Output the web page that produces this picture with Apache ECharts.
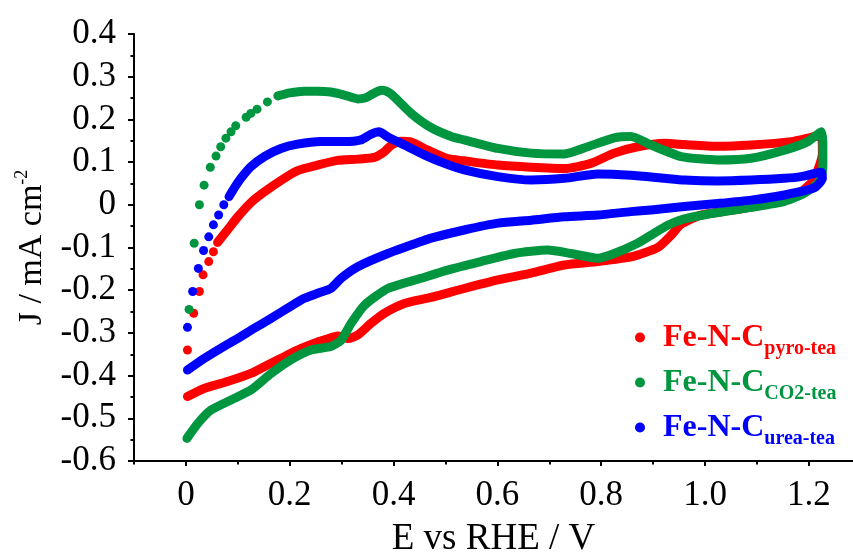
<!DOCTYPE html>
<html>
<head>
<meta charset="utf-8">
<title>CV Fe-N-C</title>
<script src="https://cdn.jsdelivr.net/npm/echarts@6/dist/echarts.min.js"></script>
<style>
  html, body { margin: 0; padding: 0; background: #fff; }
  #chart { width: 853px; height: 552px; }
</style>
</head>
<body>
<div id="chart"></div>
<script>
// E (V vs RHE), J (mA cm-2)
const xTicks = [0, 0.2, 0.4, 0.6, 0.8, 1.0, 1.2]
const xMinorTicks = [-0.1, 0.1, 0.3, 0.5, 0.7, 0.9, 1.1]
const subLabels = ['pyro-tea', 'CO2-tea', 'urea-tea']

// continuous part of each scan (anodic branch -> turn at 1.23 V -> cathodic branch)
const pyroLoop = [
  [0.061, -0.088], [0.080, -0.059], [0.100, -0.028], [0.125, 0.005], [0.151, 0.030],
  [0.183, 0.057], [0.215, 0.080], [0.254, 0.093], [0.292, 0.104], [0.331, 0.107],
  [0.363, 0.111], [0.382, 0.124], [0.395, 0.139], [0.414, 0.149], [0.434, 0.147],
  [0.466, 0.128], [0.504, 0.108], [0.536, 0.103], [0.601, 0.093], [0.665, 0.088],
  [0.729, 0.085], [0.780, 0.097], [0.825, 0.121], [0.870, 0.136], [0.922, 0.144],
  [0.960, 0.141], [1.024, 0.137], [1.089, 0.140], [1.166, 0.148], [1.204, 0.158],
  [1.224, 0.163], [1.226, 0.120], [1.210, 0.060], [1.190, 0.035], [1.172, 0.022],
  [1.121, 0.003], [1.056, -0.012], [0.992, -0.024], [0.954, -0.045], [0.934, -0.072],
  [0.909, -0.100], [0.857, -0.122], [0.793, -0.133], [0.729, -0.141], [0.665, -0.160],
  [0.601, -0.176], [0.536, -0.196], [0.472, -0.217], [0.421, -0.231], [0.382, -0.254],
  [0.356, -0.278], [0.331, -0.305], [0.312, -0.313], [0.292, -0.307], [0.270, -0.315],
  [0.254, -0.321], [0.215, -0.340], [0.164, -0.371], [0.125, -0.395], [0.080, -0.414],
  [0.035, -0.430], [0.003, -0.449]
]
const co2Loop = [
  [0.177, 0.255], [0.200, 0.262], [0.228, 0.266], [0.254, 0.266], [0.279, 0.264],
  [0.305, 0.257], [0.331, 0.248], [0.345, 0.250], [0.356, 0.257], [0.370, 0.266],
  [0.379, 0.268], [0.392, 0.262], [0.402, 0.252], [0.434, 0.214], [0.472, 0.181],
  [0.511, 0.160], [0.536, 0.152], [0.601, 0.132], [0.665, 0.121], [0.729, 0.119],
  [0.774, 0.136], [0.825, 0.157], [0.857, 0.160], [0.896, 0.140], [0.954, 0.113],
  [1.024, 0.105], [1.089, 0.109], [1.153, 0.128], [1.198, 0.148], [1.224, 0.171],
  [1.227, 0.140], [1.227, 0.100], [1.225, 0.070], [1.217, 0.050], [1.191, 0.027],
  [1.153, 0.008], [1.089, -0.006], [1.024, -0.018], [0.960, -0.033], [0.928, -0.048],
  [0.896, -0.071], [0.870, -0.090], [0.825, -0.114], [0.793, -0.125], [0.742, -0.114],
  [0.697, -0.106], [0.633, -0.114], [0.568, -0.133], [0.504, -0.153], [0.453, -0.172],
  [0.389, -0.196], [0.344, -0.235], [0.318, -0.278], [0.299, -0.317], [0.279, -0.332],
  [0.241, -0.340], [0.202, -0.363], [0.164, -0.395], [0.125, -0.434], [0.087, -0.457],
  [0.048, -0.481], [0.023, -0.512], [0.002, -0.547]
]
const ureaLoop = [
  [0.083, 0.019], [0.093, 0.039], [0.106, 0.062], [0.125, 0.089], [0.151, 0.113],
  [0.183, 0.132], [0.215, 0.142], [0.260, 0.148], [0.305, 0.148], [0.337, 0.152],
  [0.356, 0.165], [0.372, 0.171], [0.389, 0.159], [0.421, 0.140], [0.459, 0.117],
  [0.498, 0.097], [0.536, 0.082], [0.601, 0.066], [0.665, 0.058], [0.729, 0.062],
  [0.793, 0.072], [0.857, 0.069], [0.922, 0.062], [0.960, 0.058], [1.024, 0.056],
  [1.089, 0.058], [1.153, 0.062], [1.185, 0.066], [1.224, 0.076], [1.226, 0.062],
  [1.211, 0.040], [1.153, 0.023], [1.089, 0.011], [1.024, 0.003], [0.960, -0.004],
  [0.896, -0.012], [0.857, -0.016], [0.793, -0.024], [0.729, -0.028], [0.665, -0.036],
  [0.601, -0.043], [0.536, -0.059], [0.472, -0.078], [0.453, -0.086], [0.389, -0.114],
  [0.331, -0.145], [0.299, -0.172], [0.279, -0.196], [0.254, -0.207], [0.228, -0.219],
  [0.196, -0.242], [0.164, -0.266], [0.132, -0.289], [0.100, -0.313], [0.067, -0.336],
  [0.035, -0.360], [0.003, -0.387]
]

// sparse points right after the scan reverses at 0 V
const pyroDots = [
  [0.003, -0.340], [0.015, -0.254], [0.026, -0.203], [0.033, -0.164], [0.044, -0.133],
  [0.053, -0.110]
]
const co2Dots = [
  [0.006, -0.245], [0.016, -0.090], [0.026, 0.000], [0.035, 0.046], [0.047, 0.088],
  [0.058, 0.114], [0.067, 0.136], [0.077, 0.156], [0.087, 0.171], [0.096, 0.185],
  [0.116, 0.205], [0.125, 0.214], [0.137, 0.224], [0.157, 0.241]
]
const ureaDots = [
  [0.003, -0.287], [0.013, -0.203], [0.024, -0.149], [0.034, -0.107], [0.044, -0.075],
  [0.053, -0.047], [0.063, -0.024], [0.073, 0.000]
]

const colors = ['#ff0000', '#009640', '#0000ff']
const serif = '"Liberation Serif", "Times New Roman", serif'

let mychart = echarts.init(document.getElementById('chart'))

function fmt(v) {
  if (Math.abs(v) < 1e-9) return '0'
  return v.toFixed(1)
}

let names = subLabels.map((s) => 'Fe-N-C ' + s)
let loops = [pyroLoop, co2Loop, ureaLoop]
let dots = [pyroDots, co2Dots, ureaDots]

let series = []
names.forEach((name, i) => {
  series.push({
    name: name,
    type: 'line',
    data: loops[i],
    color: colors[i],
    symbol: 'none',
    smooth: 0.2,
    lineStyle: { width: 9, cap: 'round', join: 'round', color: colors[i] },
  })
  series.push({
    name: name,
    type: 'scatter',
    data: dots[i],
    color: colors[i],
    symbol: 'circle',
    symbolSize: 9,
    itemStyle: { color: colors[i], opacity: 1 },
  })
})

let rich = {}
colors.forEach((c, i) => {
  rich['m' + i] = { color: c, fontSize: 32, fontWeight: 'bold', fontFamily: serif, lineHeight: 40 }
  rich['s' + i] = { color: c, fontSize: 20, fontWeight: 'bold', fontFamily: serif, lineHeight: 20, padding: [23, 0, 0, 0] }
})

let option = {
  animation: false,
  backgroundColor: '#fff',
  grid: {
    left: 134,
    right: 0,
    top: 34,
    bottom: 91,
    outerBoundsMode: 'none',
  },
  legend: {
    data: names,
    orient: 'vertical',
    left: 630,
    top: 311,
    icon: 'circle',
    itemWidth: 10,
    itemHeight: 10,
    itemGap: 2,
    textStyle: { padding: [0, 0, 0, 13], rich: rich },
    formatter: (name) => {
      let i = names.indexOf(name)
      return '{m' + i + '|Fe-N-C}{s' + i + '|' + subLabels[i] + '}'
    },
  },
  xAxis: [
    {
      type: 'value',
      min: -0.1,
      max: 1.285,
      name: 'E vs RHE / V',
      nameLocation: 'middle',
      nameGap: 60,
      nameTextStyle: { fontSize: 37, fontFamily: serif, color: '#000' },
      axisLine: { onZero: false, lineStyle: { color: '#000', width: 2 } },
      axisTick: { customValues: xTicks, length: 5, lineStyle: { color: '#000', width: 2 } },
      axisLabel: {
        customValues: xTicks,
        formatter: fmt,
        fontSize: 35,
        fontFamily: serif,
        color: '#000',
        margin: 17,
      },
      splitLine: { show: false },
    },
    {
      type: 'value',
      position: 'bottom',
      min: -0.1,
      max: 1.285,
      axisLine: { show: false, onZero: false },
      axisTick: { customValues: xMinorTicks, length: 3.5, lineStyle: { color: '#000', width: 2 } },
      axisLabel: { show: false },
      splitLine: { show: false },
    },
  ],
  yAxis: {
    type: 'value',
    min: -0.6,
    max: 0.4,
    interval: 0.1,
    name: '{a|J / mA cm}{b|-2}',
    nameLocation: 'middle',
    nameGap: 84,
    nameTextStyle: {
      color: '#000',
      rich: {
        a: { fontSize: 34, fontFamily: serif, color: '#000', lineHeight: 36 },
        b: { fontSize: 18, fontFamily: serif, color: '#000', lineHeight: 18, padding: [0, 0, 18, 0] },
      },
    },
    axisLine: { show: true, onZero: false, lineStyle: { color: '#000', width: 2 } },
    axisTick: { show: true, length: 6, lineStyle: { color: '#000', width: 2 } },
    minorTick: { show: true, splitNumber: 2, length: 3.5, lineStyle: { color: '#000', width: 2 } },
    axisLabel: {
      formatter: fmt,
      fontSize: 35,
      fontFamily: serif,
      color: '#000',
      margin: 18,
    },
    splitLine: { show: false },
  },
  series: series,
}

mychart.setOption(option)
window.addEventListener('resize', () => {
  mychart.resize()
})
</script>
</body>
</html>
